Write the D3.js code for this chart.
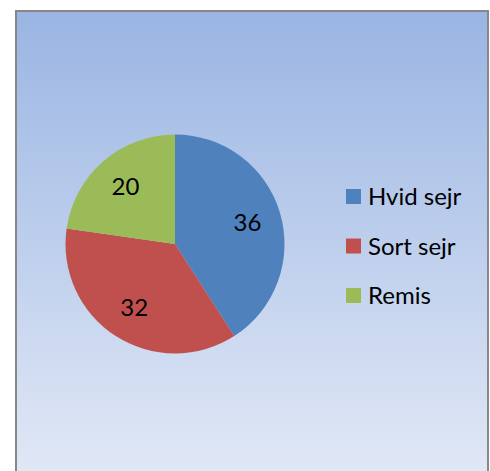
<!DOCTYPE html>
<html>
<head>
<meta charset="utf-8">
<script src="https://cdn.jsdelivr.net/npm/d3@7"></script>
<style>
  body { margin: 0; background: #ffffff; }
  svg { display: block; }
</style>
</head>
<body>
<div id="chart"></div>
<script>
// chart data
let categories = ["Hvid sejr", "Sort sejr", "Remis"];
let values = [36, 32, 20];
let colors = ["#4f81bd", "#c0504d", "#9bbb59"];

let width = 490, height = 471;

let svg = d3.select("#chart").append("svg")
    .attr("width", width)
    .attr("height", height);

// background gradient
let defs = svg.append("defs");
let grad = defs.append("linearGradient")
    .attr("id", "bg")
    .attr("x1", 0).attr("y1", 0)
    .attr("x2", 0).attr("y2", 1);
grad.append("stop").attr("offset", "0%").attr("stop-color", "#9ab5e3");
grad.append("stop").attr("offset", "100%").attr("stop-color", "#e2e9f6");

svg.append("rect")
    .attr("x", 16)
    .attr("y", 11)
    .attr("width", 472)
    .attr("height", 470)
    .attr("fill", "url(#bg)")
    .attr("stroke", "#878787")
    .attr("stroke-width", 2);

// pie
let cx = 175, cy = 244, radius = 109.5;

let pie = d3.pie()
    .value(d => d)
    .sort(null);

let arc = d3.arc()
    .innerRadius(0)
    .outerRadius(radius);

let labelArc = d3.arc()
    .innerRadius(radius * 0.69)
    .outerRadius(radius * 0.69);

let g = svg.append("g")
    .attr("transform", `translate(${cx},${cy})`);

let arcs = pie(values);

g.selectAll("path")
    .data(arcs)
    .enter()
    .append("path")
    .attr("d", arc)
    .attr("fill", (d, i) => colors[i]);

g.selectAll("text.label")
    .data(arcs)
    .enter()
    .append("text")
    .attr("class", "label")
    .attr("transform", d => `translate(${labelArc.centroid(d)})`)
    .attr("text-anchor", "middle")
    .attr("dy", "0.35em")
    .style("font-family", "Lato, 'Open Sans', sans-serif")
    .style("font-size", "24px")
    .style("fill", "#000")
    .text(d => d.data);

// legend
let legend = svg.append("g")
    .attr("transform", "translate(346,189)");

let items = legend.selectAll("g")
    .data(categories)
    .enter()
    .append("g")
    .attr("transform", (d, i) => `translate(0,${i * 49.5})`);

items.append("rect")
    .attr("width", 15)
    .attr("height", 15)
    .attr("fill", (d, i) => colors[i]);

items.append("text")
    .attr("x", 22)
    .attr("y", 16)
    .style("font-family", "Lato, 'Open Sans', sans-serif")
    .style("font-size", "24px")
    .style("fill", "#000")
    .text(d => d);
</script>
</body>
</html>
